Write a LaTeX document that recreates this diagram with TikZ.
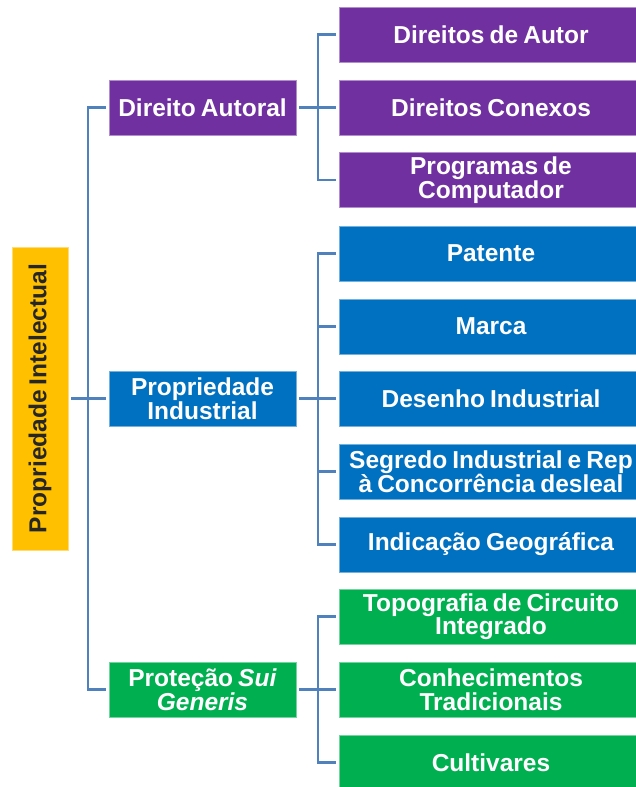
\documentclass[tikz,border=0pt]{standalone}
\usepackage{fontspec}
\setmainfont{Liberation Sans}[WordSpace=0.75]
\definecolor{cpurple}{HTML}{7030A0}
\definecolor{cblue}{HTML}{0070C0}
\definecolor{cgreen}{HTML}{00B050}
\definecolor{cyellow}{HTML}{FFC000}
\definecolor{cline}{HTML}{4F81BD}
\begin{document}
\begin{tikzpicture}[x=1pt,y=-1pt,
  box/.style={rectangle, inner sep=0pt, outer sep=3pt, fill=#1, draw=#1!55!white, line width=0.6pt,
    text=white, font=\bfseries\fontsize{24.5}{23.5}\selectfont, align=center},
  mid/.style={box=#1, minimum width=187pt, minimum height=55pt},
  leaf/.style={box=#1, minimum width=304pt, minimum height=55pt},
  link/.style={draw=cline, line width=2.6pt}]
\useasboundingbox (0,0) rectangle (635,787);

% root
\node[box=cyellow, minimum width=56pt, minimum height=303pt] (pi) at (40,398.5) {};
\node[rotate=90, inner sep=0pt, text=black!85, font=\bfseries\fontsize{24.5}{23.5}\selectfont] (pit) at (pi.center) {Propriedade Intelectual};

% middle level
\node[mid=cpurple] (da) at (202.5,107.5) {Direito Autoral};
\node[mid=cblue] (pind) at (202.5,398.5) {Propriedade\\Industrial};
\node[mid=cgreen] (ps) at (202.5,689.5) {Proteção \textit{Sui}\\\textit{Generis}};

% leaves
\node[leaf=cpurple] (a1) at (491,34.5) {Direitos de Autor};
\node[leaf=cpurple] (a2) at (491,107.5) {Direitos Conexos};
\node[leaf=cpurple] (a3) at (491,180) {Programas de\\Computador};

\node[leaf=cblue] (b1) at (491,253.5) {Patente};
\node[leaf=cblue] (b2) at (491,326.5) {Marca};
\node[leaf=cblue] (b3) at (491,398.5) {Desenho Industrial};
\node[leaf=cblue] (b4) at (491,471.5) {Segredo Industrial e Rep\\à Concorrência desleal};
\node[leaf=cblue] (b5) at (491,544.5) {Indicação Geográfica};

\node[leaf=cgreen] (c1) at (491,616.5) {Topografia de Circuito\\Integrado};
\node[leaf=cgreen] (c2) at (491,689.5) {Conhecimentos\\Tradicionais};
\node[leaf=cgreen] (c3) at (491,762.5) {Cultivares};

% junction coordinates
\coordinate (sp) at (88,398.5);
\coordinate (ja) at (318,107.5);
\coordinate (jb) at (318,398.5);
\coordinate (jc) at (318,689.5);

% root connectors
\draw[link] (pi.east) -- (pind.west);
\draw[link] (da.west) -- (da.west -| sp) -- (ps.west -| sp) -- (ps.west);

% Direito Autoral
\draw[link] (da.east) -- (ja);
\draw[link] (a1.west) -| (ja);
\draw[link] (a2.west) -- (ja);
\draw[link] (a3.west) -| (ja);

% Propriedade Industrial
\draw[link] (pind.east) -- (jb);
\draw[link] (b1.west) -| (jb);
\draw[link] (b2.west) -| (jb);
\draw[link] (b3.west) -- (jb);
\draw[link] (b4.west) -| (jb);
\draw[link] (b5.west) -| (jb);

% Protecao Sui Generis
\draw[link] (ps.east) -- (jc);
\draw[link] (c1.west) -| (jc);
\draw[link] (c2.west) -- (jc);
\draw[link] (c3.west) -| (jc);
\end{tikzpicture}
\end{document}
